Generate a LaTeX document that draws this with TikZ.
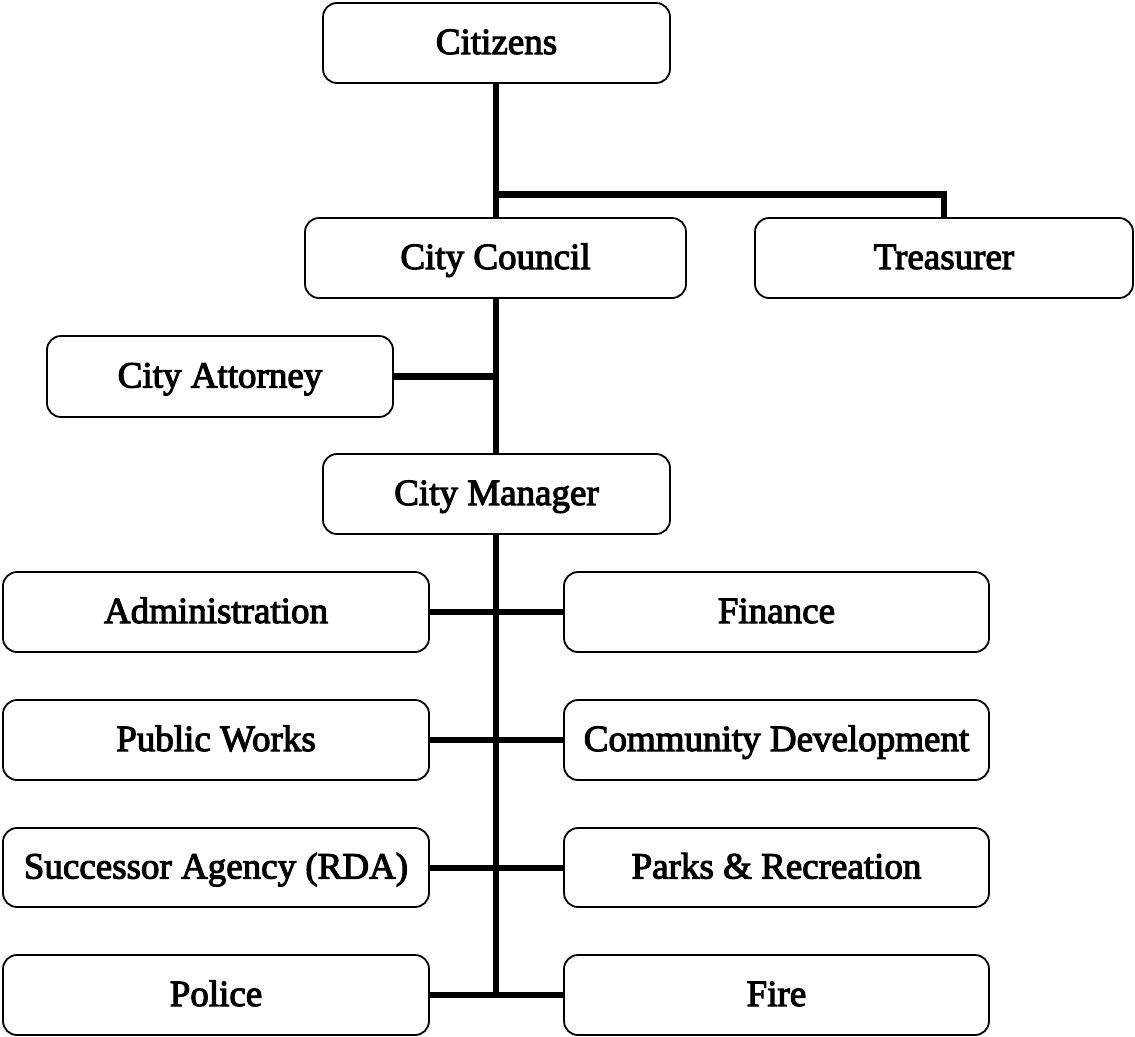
\documentclass[tikz,border=0pt]{standalone}
\usepackage{fontspec}
\newfontfamily\lblfont{Liberation Serif}[FakeBold=3]
\begin{document}
\begin{tikzpicture}[x=1pt,y=-1pt,
  box/.style={draw=black, line width=1.8pt, rounded corners=14pt, rectangle,
    minimum height=80pt, inner sep=0pt, text height=26pt, text depth=4pt,
    font=\lblfont\fontsize{37}{40}\selectfont, text=black},
  conn/.style={line width=6.5pt, black}]
\useasboundingbox (0,0) rectangle (1135,1036);
\node[box, minimum width=347pt] (cit) at (496.5,43) {Citizens};
\node[box, minimum width=381pt] (cc) at (495.5,258) {City Council};
\node[box, minimum width=378pt] (tr) at (944,258) {Treasurer};
\node[box, minimum width=346pt, minimum height=81pt] (att) at (220,376.5) {City Attorney};
\node[box, minimum width=347pt] (cm) at (496.5,494) {City Manager};
\node[box, minimum width=426pt] (adm) at (216,612) {Administration};
\node[box, minimum width=425pt] (fin) at (776.5,612) {Finance};
\node[box, minimum width=426pt] (pw) at (216,740) {Public Works};
\node[box, minimum width=425pt] (cd) at (776.5,740) {Community Development};
\node[box, minimum width=426pt, minimum height=79pt] (sa) at (216,867.5) {Successor Agency (RDA)};
\node[box, minimum width=425pt, minimum height=79pt] (pr) at (776.5,867.5) {Parks \& Recreation};
\node[box, minimum width=426pt] (pol) at (216,995) {Police};
\node[box, minimum width=425pt] (fire) at (776.5,995) {Fire};
\coordinate (j1) at (496,194.5);
\coordinate (bot) at (496,995);
\draw[conn] (cit.south -| bot) -- (cc.north -| bot);
\draw[conn] (j1) -| (tr.north);
\draw[conn] (cc.south -| bot) -- (cm.north -| bot);
\draw[conn] (att.east) -- (att.east -| bot);
\draw[conn] (cm.south -| bot) -- (bot);
\draw[conn, line width=6pt] (adm.east) -- (fin.west);
\draw[conn, line width=6pt] (pw.east) -- (cd.west);
\draw[conn, line width=6pt] (sa.east) -- (pr.west);
\draw[conn, line width=6pt] (pol.east) -- (fire.west);
\end{tikzpicture}
\end{document}
